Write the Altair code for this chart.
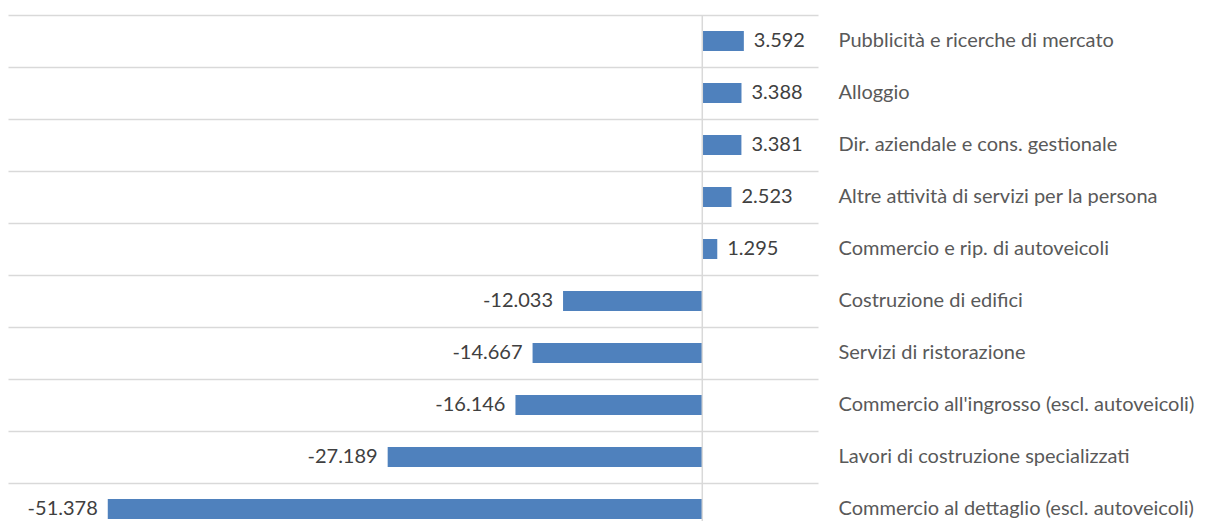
import altair as alt
import pandas as pd

categories = [
    "Pubblicità e ricerche di mercato",
    "Alloggio",
    "Dir. aziendale e cons. gestionale",
    "Altre attività di servizi per la persona",
    "Commercio e rip. di autoveicoli",
    "Costruzione di edifici",
    "Servizi di ristorazione",
    "Commercio all'ingrosso (escl. autoveicoli)",
    "Lavori di costruzione specializzati",
    "Commercio al dettaglio (escl. autoveicoli)",
]
values = [3592, 3388, 3381, 2523, 1295, -12033, -14667, -16146, -27189, -51378]


def it_fmt(v):
    s = f"{abs(v):,}".replace(",", ".")
    return ("-" if v < 0 else "") + s


df = pd.DataFrame({"cat": categories, "val": values,
                   "label": [it_fmt(v) for v in values]})

FONT = "Lato"
FS = 20
yscale = alt.Scale(domain=categories, range=[0, 520], paddingInner=0, paddingOuter=0)
xscale = alt.Scale(domain=[-60000, 10000], nice=False)

base = alt.Chart(df)

bars = base.mark_bar(size=20, color="#4F81BD").encode(
    x=alt.X("val:Q", scale=xscale, axis=None),
    y=alt.Y("cat:N", scale=yscale, sort=categories,
            axis=alt.Axis(orient="left", grid=True, bandPosition=0, labels=False,
                          ticks=False, domain=False, title=None,
                          gridColor="#D9D9D9", gridWidth=1.5)),
)

pos_text = base.transform_filter("datum.val >= 0").mark_text(
    align="left", baseline="middle", dx=10, fontSize=FS, font=FONT, color="#404040"
).encode(
    x=alt.X("val:Q", scale=xscale, axis=None),
    y=alt.Y("cat:N", scale=yscale, sort=categories,
            axis=alt.Axis(orient="right", grid=False, ticks=False, domain=False,
                          title=None, labelPadding=20, labelFontSize=FS,
                          labelFont=FONT, labelColor="#595959", labelAlign="left",
                          labelLimit=0)),
    text="label:N",
)

neg_text = base.transform_filter("datum.val < 0").mark_text(
    align="right", baseline="middle", dx=-10, fontSize=FS, font=FONT, color="#404040"
).encode(
    x=alt.X("val:Q", scale=xscale, axis=None),
    y=alt.Y("cat:N", scale=yscale, sort=categories, axis=None),
    text="label:N",
)

zero = alt.Chart(pd.DataFrame({"z": [0]})).mark_rule(
    color="#D9D9D9", strokeWidth=1.5
).encode(x=alt.X("z:Q", scale=xscale, axis=None))

chart = (
    alt.layer(bars, zero, pos_text, neg_text)
    .resolve_axis(y="independent")
    .properties(
        width=810,
        height=506,
        autosize=alt.AutoSizeParams(type="none"),
        padding={"left": 0, "top": 7, "right": 382, "bottom": 0},
    )
    .configure_view(stroke=None)
)

chart.save("out.html", embed_options={"renderer": "svg", "actions": False})
